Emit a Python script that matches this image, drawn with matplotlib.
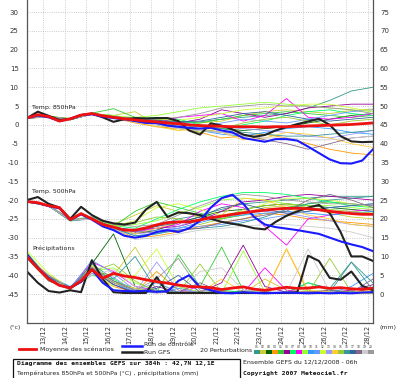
import numpy as np
import matplotlib.pyplot as plt
from matplotlib.patches import Rectangle
from matplotlib.lines import Line2D

# time axis (hours from run 12/12 06h)
hours_main = np.arange(0, 385, 12)
hours_pert = np.arange(0, 385, 24)
day_labels = ['%d/12' % d for d in range(13, 29)]

# mean, control, GFS run (12h steps)
t850_mean = [1.8, 2.7, 2.2, 1.0, 1.6, 2.6, 3.0, 2.4, 2.0, 1.6, 1.3, 1.0, 0.8, 0.5, 0.3, 0.0, -0.2,
             -0.3, -0.4, -0.5, -0.5, -0.5, -0.6, -0.5, -0.5, -0.4, -0.3, -0.2, -0.1, 0.0, 0.1, 0.3, 0.5]
t850_ctrl = [1.8, 2.5, 2.0, 1.0, 1.6, 2.6, 2.8, 2.2, 1.8, 1.5, 1.0, 0.5, 0.5, -0.2, -0.5, -0.8, -1.0,
             -0.8, -1.5, -2.0, -3.5, -4.0, -4.5, -3.8, -3.8, -4.2, -5.8, -7.5, -9.2, -10.2, -10.3, -9.5, -6.5]
t850_gfs = [1.8, 3.5, 2.4, 1.3, 1.6, 2.6, 3.0, 2.0, 0.8, 1.5, 1.8, 1.7, 1.8, 1.8, 1.0, -1.5, -2.6,
            0.4, -0.2, -1.2, -2.6, -3.2, -2.7, -1.5, -0.6, 0.2, 0.9, 1.6, 0.0, -3.0, -4.4, -4.6, -4.5]

t500_mean = [-20.4, -20.7, -21.5, -22.0, -25.2, -23.6, -25.0, -26.5, -27.2, -28.0, -28.0, -27.4, -26.6,
             -26.0, -25.8, -25.8, -25.3, -24.7, -24.3, -23.8, -23.4, -23.0, -22.7, -22.4, -22.2, -22.2,
             -22.3, -22.6, -23.0, -23.3, -23.6, -23.8, -23.8]
t500_ctrl = [-20.4, -20.8, -21.6, -22.2, -25.3, -23.8, -25.2, -27.0, -28.0, -29.5, -30.0, -29.5, -28.5,
             -28.0, -28.5, -27.5, -25.5, -22.0, -19.5, -18.6, -21.0, -24.5, -26.5, -27.2, -27.6, -28.0,
             -28.5, -29.0, -30.0, -31.0, -31.8, -32.5, -33.6]
t500_gfs = [-20.0, -19.2, -21.0, -22.0, -25.0, -21.8, -24.0, -25.5, -26.2, -26.5, -26.0, -22.5, -20.5,
            -24.5, -23.3, -23.5, -24.0, -25.0, -25.8, -26.3, -26.8, -27.5, -27.8, -25.8, -24.2, -23.0,
            -22.0, -21.3, -23.5, -28.5, -35.0, -35.0, -36.2]

rr_mean = [10.0, 6.8, 4.0, 2.3, 1.6, 3.5, 6.5, 4.2, 5.5, 4.8, 4.4, 3.8, 3.3, 2.9, 2.4, 2.0, 1.9,
           1.7, 1.2, 1.6, 1.9, 1.3, 1.0, 1.4, 1.8, 1.5, 1.6, 1.9, 1.5, 1.7, 1.4, 1.2, 1.6]
rr_ctrl = [10.5, 7.0, 4.2, 2.3, 1.7, 3.2, 6.5, 3.0, 1.0, 0.8, 0.7, 0.9, 0.6, 0.7, 3.5, 5.0, 1.8,
           1.0, 0.3, 0.2, 0.5, 0.3, 0.2, 0.3, 0.4, 0.3, 0.2, 0.3, 0.2, 0.3, 0.2, 0.4, 0.5]
rr_gfs = [6.0, 3.0, 0.8, 0.4, 1.0, 0.5, 9.0, 4.0, 0.5, 0.3, 0.3, 0.3, 4.5, 0.3, 0.3, 0.3, 0.3,
          0.3, 0.3, 0.3, 0.3, 0.3, 0.3, 0.3, 0.3, 0.5, 10.2, 8.8, 4.3, 3.8, 6.0, 2.2, 1.0]

# 20 perturbations (24h steps)
t850_pert = [
    [1.8, 2.1, 1.4, 2.8, 2.2, 1.5, 1.0, 0.5, 0.8, 1.5, 2.0, 2.5, 3.0, 4.5, 6.5, 9.0, 10.0],
    [1.8, 2.3, 1.6, 3.0, 2.5, 3.5, 0.0, -1.5, 0.5, 1.0, 2.5, 3.5, 4.0, 3.5, 3.0, 3.8, 4.2],
    [1.8, 2.2, 1.3, 2.9, 2.0, 1.0, 0.5, 0.0, -0.5, -1.0, -1.5, -1.0, -0.5, 0.5, 1.5, 2.5, 3.0],
    [1.8, 2.0, 1.5, 2.8, 1.8, 0.5, -0.5, -1.0, -2.0, -3.5, -3.0, -2.5, -3.5, -5.0, -6.5, -7.5, -8.0],
    [1.8, 2.2, 1.7, 3.1, 4.3, 2.0, 1.5, 1.0, 0.5, 1.5, 2.5, 3.0, 3.5, 3.0, 2.5, 2.0, 2.5],
    [1.8, 2.1, 1.5, 2.9, 2.2, 1.8, 1.2, 0.5, 1.5, 4.0, 3.0, 2.0, 3.0, 4.5, 5.0, 5.5, 5.5],
    [1.8, 2.2, 1.6, 3.0, 2.5, 1.5, 2.0, 1.5, 0.0, -1.0, 0.0, 1.0, 2.5, 3.5, 4.0, 3.0, 2.5],
    [1.8, 2.2, 1.5, 2.9, 2.0, 1.5, 0.5, 2.0, 2.5, 3.0, 1.0, 2.5, 7.0, 2.0, 1.5, 2.0, 3.0],
    [1.8, 2.3, 1.6, 3.1, 2.3, 2.0, 2.5, 3.5, 4.5, 5.0, 5.5, 6.0, 5.5, 5.0, 4.5, 4.0, 3.5],
    [1.8, 2.1, 1.4, 2.8, 1.9, 1.0, 0.0, -0.8, -1.5, -2.5, -3.0, -2.0, -1.0, -0.5, -1.0, -2.0, -2.5],
    [1.8, 2.2, 1.5, 2.9, 2.1, 1.2, 0.8, 0.0, -0.5, 0.5, 1.5, 1.0, 0.5, 1.5, 2.5, 3.5, 4.0],
    [1.8, 2.2, 1.6, 3.0, 2.4, 1.8, 1.5, 1.2, 2.0, 3.0, 4.0, 4.5, 5.0, 5.5, 5.5, 4.5, 3.5],
    [1.8, 2.1, 1.5, 2.8, 2.0, 1.3, 1.0, 0.5, 0.0, -0.5, -1.0, -1.5, -2.0, -3.0, -3.5, -2.5, -1.5],
    [1.8, 2.2, 1.5, 2.9, 2.1, 1.0, -0.5, -1.5, -1.0, -2.0, -4.0, -3.5, -2.0, -2.5, -3.5, -5.0, -6.0],
    [1.8, 2.2, 1.6, 3.0, 2.3, 1.5, 1.2, -0.5, -2.0, -1.0, 0.5, 1.5, 2.0, 1.0, 0.0, 1.0, 1.5],
    [1.8, 2.1, 1.4, 2.8, 2.0, 1.4, 1.0, 0.3, -0.3, -1.0, -2.0, -2.5, -3.0, -3.0, -2.5, -2.0, -1.5],
    [1.8, 2.2, 1.5, 2.9, 2.2, 1.6, 1.2, 0.8, 1.0, 2.0, 3.0, 3.5, 2.5, 1.5, 1.0, 1.5, 2.0],
    [1.8, 2.2, 1.5, 2.9, 2.0, 1.0, 0.2, -0.5, -1.5, -2.0, -2.5, -4.0, -5.0, -6.5, -5.0, -3.5, -3.0],
    [1.8, 2.1, 1.5, 2.8, 1.9, 0.8, 0.0, -1.0, -1.5, -2.0, -3.0, -3.5, -3.5, -4.0, -4.0, -3.5, -3.0],
    [1.8, 2.2, 1.6, 3.0, 2.2, 1.6, 1.5, 2.0, 3.0, 4.5, 5.0, 5.5, 5.0, 5.0, 4.5, 4.0, 3.0],
]
t500_pert = [
    [-20.4, -21.5, -25.5, -24.5, -27.0, -28.5, -27.0, -25.0, -24.0, -22.5, -21.0, -20.5, -20.0, -19.5, -19.0, -19.0, -19.0],
    [-20.3, -21.4, -25.0, -24.8, -26.5, -24.0, -21.5, -23.0, -24.5, -25.0, -23.5, -22.0, -21.5, -22.0, -23.5, -24.5, -25.0],
    [-20.5, -21.6, -25.4, -25.0, -27.5, -29.0, -28.0, -26.0, -24.5, -23.0, -22.5, -21.5, -21.0, -21.5, -22.0, -22.5, -23.0],
    [-20.4, -21.5, -25.2, -25.2, -27.8, -30.0, -29.5, -28.5, -27.0, -26.0, -25.0, -23.5, -24.0, -25.0, -25.5, -26.0, -26.5],
    [-20.4, -21.5, -25.6, -24.8, -27.0, -23.0, -20.5, -22.0, -23.5, -25.0, -24.0, -22.5, -22.0, -21.0, -20.5, -21.0, -21.5],
    [-20.4, -21.6, -25.3, -25.0, -27.3, -28.0, -27.5, -27.0, -25.5, -23.0, -20.5, -20.0, -19.0, -18.5, -19.0, -19.5, -20.0],
    [-20.3, -21.4, -25.1, -24.6, -26.8, -27.5, -25.0, -22.5, -20.5, -19.0, -18.0, -18.0, -18.5, -19.5, -20.5, -21.5, -22.0],
    [-20.4, -21.5, -25.2, -25.0, -27.2, -28.5, -27.5, -26.5, -23.0, -21.0, -22.0, -27.0, -32.0, -25.0, -24.0, -23.0, -22.5],
    [-20.5, -21.5, -25.3, -24.9, -27.1, -26.5, -25.5, -23.5, -22.0, -20.0, -19.5, -20.0, -21.0, -21.5, -21.5, -22.0, -22.5],
    [-20.4, -21.6, -25.4, -25.1, -27.6, -29.5, -29.0, -27.5, -26.0, -24.5, -24.0, -23.5, -23.0, -23.5, -24.0, -23.5, -23.0],
    [-20.4, -21.5, -25.2, -25.0, -27.3, -28.5, -28.0, -27.5, -27.0, -26.5, -25.5, -25.0, -24.0, -23.0, -22.0, -21.5, -21.0],
    [-20.3, -21.5, -25.1, -24.8, -26.9, -25.5, -22.0, -21.0, -22.5, -24.0, -23.0, -21.0, -19.5, -19.5, -20.0, -21.0, -22.0],
    [-20.5, -21.6, -25.4, -25.0, -27.4, -29.0, -28.5, -27.0, -25.0, -24.0, -23.5, -23.0, -23.5, -24.5, -25.5, -26.5, -27.0],
    [-20.4, -21.5, -25.3, -25.1, -27.5, -29.0, -27.5, -26.0, -25.5, -24.0, -19.5, -20.0, -22.0, -24.0, -25.0, -26.5, -27.0],
    [-20.4, -21.5, -25.2, -24.9, -27.0, -26.0, -24.5, -25.0, -26.5, -25.0, -22.5, -21.5, -21.0, -22.0, -22.5, -23.0, -23.5],
    [-20.5, -21.6, -25.4, -25.1, -27.5, -29.5, -29.0, -28.0, -27.5, -27.0, -26.0, -24.5, -22.5, -21.0, -20.0, -19.5, -19.0],
    [-20.4, -21.5, -25.3, -25.0, -27.3, -28.0, -27.0, -26.0, -24.5, -22.0, -21.0, -22.5, -23.5, -23.0, -22.0, -21.5, -21.0],
    [-20.4, -21.5, -25.2, -25.0, -27.2, -28.5, -28.5, -28.0, -27.5, -26.0, -25.0, -24.0, -23.0, -20.0, -18.5, -20.0, -22.0],
    [-20.4, -21.6, -25.3, -25.1, -27.6, -30.5, -30.0, -29.0, -28.0, -27.5, -27.0, -26.5, -26.5, -27.0, -27.5, -28.5, -30.0],
    [-20.3, -21.4, -25.1, -24.7, -26.5, -27.0, -26.5, -24.0, -21.5, -19.5, -18.5, -19.0, -20.0, -20.5, -21.0, -21.0, -21.5],
]
rr_pert = [
    [10.0, 4.5, 1.5, 7.0, 3.0, 1.0, 0.5, 2.0, 0.5, 0.2, 1.0, 0.5, 0.3, 3.0, 1.5, 8.5, 3.0],
    [10.5, 4.0, 1.8, 6.0, 5.0, 12.5, 3.0, 0.5, 0.3, 0.5, 0.2, 4.0, 1.0, 0.5, 0.3, 0.5, 1.0],
    [9.5, 3.5, 1.2, 8.0, 16.0, 2.0, 0.5, 0.3, 0.2, 0.5, 0.3, 0.2, 0.5, 0.3, 0.2, 0.5, 0.3],
    [10.0, 5.0, 1.6, 5.5, 2.0, 0.5, 6.0, 1.0, 0.3, 0.5, 0.5, 0.3, 12.0, 0.5, 1.0, 0.5, 0.5],
    [11.0, 4.2, 1.4, 7.5, 3.5, 1.5, 0.5, 10.5, 2.0, 12.5, 1.0, 0.5, 0.3, 0.2, 0.5, 0.3, 0.5],
    [10.2, 3.8, 1.5, 6.5, 2.5, 0.3, 2.0, 0.5, 0.5, 3.0, 13.0, 2.0, 0.5, 0.3, 0.5, 1.0, 2.5],
    [9.8, 4.5, 1.3, 5.0, 4.0, 1.0, 0.5, 0.3, 0.2, 1.0, 0.5, 0.3, 0.5, 3.0, 1.0, 0.5, 0.3],
    [10.3, 4.0, 1.7, 8.5, 6.0, 2.0, 1.0, 0.5, 2.0, 0.5, 0.3, 7.0, 1.0, 0.5, 0.3, 0.2, 0.5],
    [10.5, 3.5, 1.5, 6.0, 7.0, 3.0, 1.0, 0.5, 0.3, 0.2, 11.5, 0.5, 0.3, 1.0, 0.5, 0.3, 0.2],
    [9.7, 4.8, 2.0, 7.0, 3.0, 0.5, 0.3, 1.5, 0.5, 0.3, 0.2, 0.5, 0.3, 0.5, 0.3, 2.0, 5.5],
    [10.0, 4.0, 1.4, 9.0, 5.5, 1.0, 3.0, 0.5, 0.3, 0.5, 0.3, 0.2, 0.5, 0.3, 0.2, 0.5, 0.3],
    [11.5, 5.5, 1.5, 6.5, 2.0, 5.0, 12.0, 2.0, 0.5, 0.3, 0.5, 0.3, 0.2, 0.3, 0.5, 0.3, 0.2],
    [10.0, 4.2, 1.6, 5.5, 4.5, 0.5, 8.5, 1.0, 0.5, 0.3, 0.2, 0.5, 0.3, 0.2, 0.5, 0.3, 0.5],
    [10.2, 3.8, 1.3, 7.5, 3.0, 1.5, 0.5, 0.3, 0.5, 4.0, 0.5, 0.3, 12.0, 1.0, 0.5, 0.3, 0.2],
    [9.8, 4.5, 1.5, 6.0, 8.0, 3.5, 0.5, 0.3, 8.0, 0.5, 0.3, 0.2, 0.5, 0.3, 9.5, 0.5, 0.3],
    [10.5, 4.0, 1.2, 8.0, 4.0, 10.0, 1.0, 0.5, 0.3, 0.5, 0.3, 0.5, 0.3, 0.2, 0.5, 8.5, 1.0],
    [10.0, 4.5, 1.8, 6.5, 2.5, 0.5, 1.5, 5.0, 0.5, 0.3, 0.5, 0.3, 0.2, 0.5, 0.3, 0.5, 0.3],
    [10.3, 3.5, 1.4, 7.0, 3.5, 1.0, 0.3, 0.5, 3.0, 0.5, 0.3, 0.5, 0.3, 0.5, 1.0, 0.5, 4.0],
    [10.0, 4.0, 1.6, 5.0, 6.5, 2.0, 0.5, 0.5, 6.0, 7.0, 1.0, 0.5, 0.3, 12.0, 0.5, 0.3, 0.5],
    [9.5, 5.0, 1.5, 6.5, 3.0, 1.0, 4.0, 9.5, 1.0, 0.5, 0.3, 0.2, 0.5, 0.3, 0.5, 0.2, 0.5],
]
pert_colors = ['#339988', '#cccc33', '#006600', '#ff9900', '#33cc33', '#990099', '#00ff66',
               '#ff00ff', '#99ff33', '#3399ff', '#6699ff', '#ccff33', '#9999ff', '#ffcc33',
               '#99cc33', '#339999', '#336699', '#886688', '#cccccc', '#999999']

RR_OFFSET = 45  # precipitation drawn on right axis: mm = left value + 45

W, H = 400, 378
fig = plt.figure(figsize=(W / 100, H / 100), dpi=100)
fig.patch.set_facecolor('white')
ax = fig.add_axes([27 / W, 55 / H, 346 / W, 323 / H])

for i in range(20):
    c = pert_colors[i]
    ax.plot(hours_pert, t850_pert[i], color=c, lw=0.6)
    ax.plot(hours_pert, t500_pert[i], color=c, lw=0.6)
    ax.plot(hours_pert, np.array(rr_pert[i]) - RR_OFFSET, color=c, lw=0.6)

for series in (t850_gfs, t500_gfs, np.array(rr_gfs) - RR_OFFSET):
    ax.plot(hours_main, series, color='#222222', lw=1.5)
for series in (t850_ctrl, t500_ctrl, np.array(rr_ctrl) - RR_OFFSET):
    ax.plot(hours_main, series, color='#1a1aff', lw=1.5)
for series in (t850_mean, t500_mean, np.array(rr_mean) - RR_OFFSET):
    ax.plot(hours_main, series, color='#ee1111', lw=2.0)

ax.set_xlim(0, 384)
ax.set_ylim(-52.7, 33.2)
day_pos = [18 + 24 * k for k in range(len(day_labels))]
ax.set_xticks(day_pos)
ax.set_xticklabels(day_labels, rotation=90, fontsize=4.8, color='#333333')
ax.set_yticks(range(-45, 31, 5))
ax.set_yticklabels([str(v) for v in range(-45, 31, 5)], fontsize=5, color='#333333')
ax.tick_params(axis='both', length=0)
ax.tick_params(axis='y', pad=6)
ax.tick_params(axis='x', pad=1.5)
ax.grid(True, ls=':', color='#bbbbbb', lw=0.6)
ax.set_axisbelow(True)
for s in ('left', 'right', 'bottom'):
    ax.spines[s].set_color('#555555')
    ax.spines[s].set_linewidth(0.9)
ax.spines['top'].set_visible(False)

ax2 = ax.twinx()
ax2.set_ylim(-52.7 + RR_OFFSET, 33.2 + RR_OFFSET)
ax2.set_yticks(range(0, 76, 5))
ax2.set_yticklabels([str(v) for v in range(0, 76, 5)], fontsize=5, color='#333333')
ax2.tick_params(axis='y', length=0, pad=5)
for s in ('left', 'right', 'bottom', 'top'):
    ax2.spines[s].set_visible(False)

ax.text(5.5, 4.7, 'Temp. 850hPa', fontsize=4.5, va='center', color='#222222')
ax.text(5.5, -17.7, 'Temp. 500hPa', fontsize=4.5, va='center', color='#222222')
ax.text(5.5, -32.7, 'Précipitations', fontsize=4.5, va='center', color='#222222')


def fx(x):
    return x / W


def fy(y):
    return 1 - y / H


fig.text(fx(10), fy(328), '(°c)', fontsize=4.5, va='center', color='#333333')
fig.text(fx(379), fy(328), '(mm)', fontsize=4.5, va='center', color='#333333')

# legend row
fig.add_artist(Line2D([fx(19), fx(36)], [fy(349), fy(349)], color='#ee1111', lw=2.0))
fig.text(fx(40), fy(349), 'Moyenne des scénarios', fontsize=4.5, va='center', color='#222222')
fig.add_artist(Line2D([fx(122), fx(142)], [fy(346), fy(346)], color='#1a1aff', lw=1.8))
fig.add_artist(Line2D([fx(122), fx(142)], [fy(351.5), fy(351.5)], color='#222222', lw=1.8))
fig.text(fx(144), fy(345), 'Run de contrôle', fontsize=4.5, va='center', color='#222222')
fig.text(fx(144), fy(352.5), 'Run GFS', fontsize=4.5, va='center', color='#222222')
fig.text(fx(200), fy(350), '20 Perturbations', fontsize=4.5, va='center', color='#222222')
for i, c in enumerate(pert_colors):
    x0 = 254 + i * 6
    fig.add_artist(Rectangle((fx(x0), fy(353.5)), 5.5 / W, 4 / H, transform=fig.transFigure,
                             facecolor=c, edgecolor='none'))
    fig.text(fx(x0 + 2.8), fy(347), '%02d' % (i + 1), fontsize=2.2, ha='center', va='center',
             color='#333333')

# title box
fig.add_artist(Rectangle((fx(13), fy(379)), 227 / W, 20 / H, transform=fig.transFigure,
                         facecolor='white', edgecolor='#111111', lw=0.9))
fig.text(fx(17), fy(364), 'Diagramme des ensembles GEFS sur 384h : 42,7N 12,1E',
         fontsize=4.6, fontweight='bold', family='DejaVu Sans Mono', va='center', color='#111111')
fig.text(fx(17), fy(373), 'Températures 850hPa et 500hPa (°C) , précipitations (mm)',
         fontsize=4.4, va='center', color='#222222')
fig.text(fx(243), fy(362), 'Ensemble GEFS du 12/12/2008 - 06h', fontsize=4.5, va='center',
         color='#222222')
fig.text(fx(243), fy(374), 'Copyright 2007 Meteociel.fr', fontsize=4.6, fontweight='bold',
         family='DejaVu Sans Mono', va='center', color='#111111')

fig.savefig('out.png', dpi=100, facecolor='white')
